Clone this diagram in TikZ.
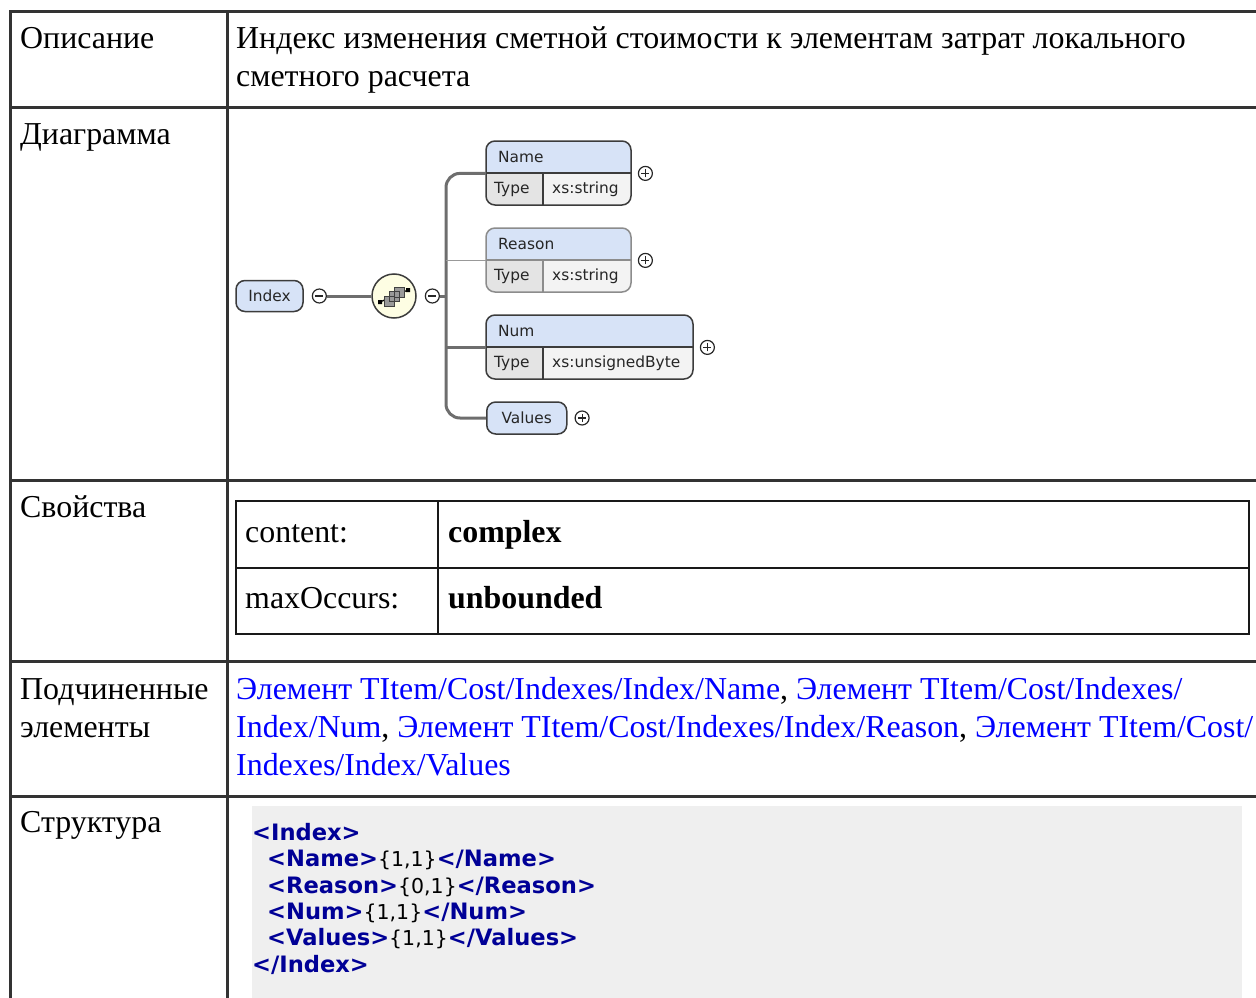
\documentclass[tikz,border=0pt]{standalone}
\usepackage{fontspec}
\setmainfont{Liberation Serif}
\newfontfamily\diagfont{DejaVu Sans}
\newfontfamily\codefont{DejaVu Sans}
\usetikzlibrary{positioning,calc}

\definecolor{gridline}{HTML}{333333}
\definecolor{linkblue}{HTML}{0000FF}
\definecolor{codeblue}{HTML}{000096}
\definecolor{codebg}{HTML}{EFEFEF}
\definecolor{headblue}{HTML}{D7E3F7}
\definecolor{typegray}{HTML}{E4E4E4}
\definecolor{valgray}{HTML}{F3F3F3}
\definecolor{seqyellow}{HTML}{FDFDE3}
\definecolor{boxline}{HTML}{3C3C3C}
\definecolor{wirecol}{HTML}{6E6E6E}

\newcommand{\bodyfont}{\fontsize{31.9}{38}\selectfont}
\newcommand{\lnk}[1]{\textcolor{linkblue}{#1}}
\newcommand{\occ}[1]{{\mdseries\color{black}\fontsize{20.5}{26}\selectfont\{#1\}}}

\tikzstyle{gridrule} = [draw=gridline, line width=3, line cap=rect]
\tikzstyle{proprule} = [draw=black!90, line width=2.5, line cap=rect]
\tikzstyle{txt} = [anchor=base west, inner sep=0, font=\bodyfont]
\tikzstyle{codeline} = [anchor=base west, inner sep=0, text=codeblue,
  font=\codefont\bfseries\fontsize{22.6}{26}\selectfont]
\tikzstyle{elhead} = [rectangle, minimum height=32, inner sep=0, anchor=north west]
\tikzstyle{eltext} = [anchor=west, inner sep=0, text=black!85,
  font=\diagfont\fontsize{15.4}{18}\selectfont]
\tikzstyle{leaf} = [rectangle, rounded corners=9, draw=boxline, line width=1.5,
  fill=headblue, minimum height=32, inner sep=0, text=black!85,
  font=\diagfont\fontsize{15.4}{18}\selectfont]
\tikzstyle{sign} = [circle, draw=black!85, fill=white, minimum size=14,
  inner sep=0, line width=1.2]
\tikzstyle{opensign} = [path picture={
    \draw[line width=1.2] ([xshift=-4pt]path picture bounding box.center) -- ++(8pt,0pt);}]
\tikzstyle{closedsign} = [path picture={
    \draw[line width=1.2] ([xshift=-4pt]path picture bounding box.center) -- ++(8pt,0pt)
      ([yshift=-4pt]path picture bounding box.center) -- ++(0pt,8pt);}]
\tikzstyle{seqnode} = [circle, draw=boxline, line width=1.5, fill=seqyellow,
  minimum size=44, inner sep=0,
  path picture={
    \coordinate (c) at (path picture bounding box.center);
    \draw[black, line width=1.2] ([shift={(-14pt,-6pt)}]c) -- ([shift={(14pt,6pt)}]c);
    \fill[black] ([shift={(-16pt,-8pt)}]c) rectangle ++(4pt,4pt)
      ([shift={(12pt,4pt)}]c) rectangle ++(4pt,4pt);
    \filldraw[fill=black!40, draw=black!75, line width=0.9]
      ([shift={(0pt,-1pt)}]c) rectangle ++(10pt,10pt)
      ([shift={(-5pt,-5.5pt)}]c) rectangle ++(10pt,10pt)
      ([shift={(-10pt,-10pt)}]c) rectangle ++(10pt,10pt);}]
\tikzstyle{wire} = [draw=wirecol, line width=3]
\tikzstyle{optwire} = [draw=black!40, line width=1]

% element box: id, x, y, width, name, type, line colour
\newcommand{\xelem}[7]{%
  \begin{scope}
    \clip[rounded corners=9] (#2,#3) rectangle ++(#4,64);
    \fill[headblue] (#2,#3) rectangle ++(#4,32);
    \fill[typegray] (#2,#3+32) rectangle ++(57,32);
    \fill[valgray] (#2+57,#3+32) rectangle (#2+#4,#3+64);
  \end{scope}
  \draw[#7, line width=1.5] (#2,#3+32) -- ++(#4,0) (#2+57,#3+32) -- ++(0,32);
  \draw[#7, line width=1.5, rounded corners=9] (#2,#3) rectangle ++(#4,64);
  \node[elhead, minimum width=#4] (#1) at (#2,#3) {};
  \node[eltext, right=12pt of #1.west] (#1-name) {#5};
  \node[eltext] (#1-type) at ([xshift=8pt, yshift=-16pt]#1.south west) {Type};
  \node[eltext] (#1-val) at ([xshift=66pt, yshift=-16pt]#1.south west) {#6};
  \node[sign, closedsign] (#1-p) at ([xshift=14pt]#1.south east) {};
}

\begin{document}
\begin{tikzpicture}[x=1pt, y=-1pt]
  \useasboundingbox (0,0) rectangle (1256,998);

  % table
  \fill[codebg] (252,806) rectangle (1242,998);
  \foreach \ry in {12,107,480,661,796}
    \draw[gridrule] (10,\ry) -- (1260,\ry);
  \draw[gridrule] (10,12) -- (10,1002);
  \draw[gridrule] (227,12) -- (227,1002);

  \node[txt] (desc-l) at (20,49) {Описание};
  \node[txt] (desc-1) at (236,49) {Индекс изменения сметной стоимости к элементам затрат локального};
  \node[txt] (desc-2) at (236,87) {сметного расчета};
  \node[txt] (diag-l) at (20,144) {Диаграмма};
  \node[txt] (prop-l) at (20,517) {Свойства};

  \draw[proprule] (236,501) rectangle (1249,634);
  \draw[proprule] (236,568) -- (1249,568) (438,501) -- (438,634);
  \node[txt] (content-k) at (245,542) {content:};
  \node[txt] (content-v) at (448,542) {\textbf{complex}};
  \node[txt] (max-k) at (245,608) {maxOccurs:};
  \node[txt] (max-v) at (448,608) {\textbf{unbounded}};

  \node[txt] (sub-l1) at (20,699) {Подчиненные};
  \node[txt] (sub-l2) at (20,737) {элементы};
  \node[txt] (sub-1) at (236,699) {\lnk{Элемент TItem/Cost/Indexes/Index/Name}, \lnk{Элемент TItem/Cost/Indexes/}};
  \node[txt] (sub-2) at (236,737) {\lnk{Index/Num}, \lnk{Элемент TItem/Cost/Indexes/Index/Reason}, \lnk{Элемент TItem/Cost/}};
  \node[txt] (sub-3) at (236,775) {\lnk{Indexes/Index/Values}};

  \node[txt] (struct-l) at (20,832) {Структура};
  \node[codeline] (code1) at (252,840) {<Index>};
  \node[codeline] (code2) at (267,866) {<Name>\occ{1,1}</Name>};
  \node[codeline] (code3) at (267,893) {<Reason>\occ{0,1}</Reason>};
  \node[codeline] (code4) at (267,919) {<Num>\occ{1,1}</Num>};
  \node[codeline] (code5) at (267,945) {<Values>\occ{1,1}</Values>};
  \node[codeline] (code6) at (252,972) {</Index>};

  % diagram
  \coordinate (trunk) at (446,296);
  \xelem{name}{486}{141}{145}{Name}{xs:string}{boxline}
  \xelem{reason}{486}{228}{145}{Reason}{xs:string}{black!45}
  \xelem{num}{486}{315}{207}{Num}{xs:unsignedByte}{boxline}
  \node[leaf, minimum width=80, anchor=west] (values) at (486,418) {Values};
  \node[sign, closedsign, right=7pt of values] (values-p) {};

  \node[leaf, minimum width=67, minimum height=31] (index) at (269.5,296) {Index};
  \node[sign, opensign, right=8pt of index] (index-m) {};
  \node[seqnode] (seq) at (394,296) {};
  \node[sign, opensign, right=8pt of seq] (seq-m) {};

  \draw[wire] (index-m) -- (seq);
  \draw[wire] (seq-m) -- (trunk);
  \draw[wire, rounded corners=14] (name.south west) -| (trunk) |- (values.west);
  \draw[wire] (trunk |- num.south west) -- (num.south west);
  \draw[optwire] (trunk |- reason.south west) -- (reason.south west);
\end{tikzpicture}
\end{document}
